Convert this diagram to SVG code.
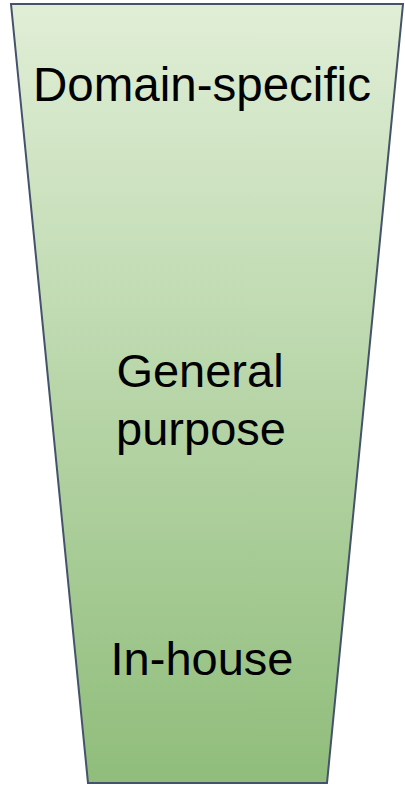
<svg xmlns="http://www.w3.org/2000/svg" width="405" height="785" viewBox="0 0 405 785">
<defs>
<linearGradient id="g" x1="0" y1="0" x2="0" y2="1">
<stop offset="0" stop-color="#e0eed6"/>
<stop offset="1" stop-color="#90bd7b"/>
</linearGradient>
<style>
.t{font-family:"Liberation Sans",Arial,sans-serif;font-size:47px;fill:#000;text-anchor:middle}
</style>
</defs>
<rect width="405" height="785" fill="#fff"/>
<g id="funnel">
<polygon points="11,4 403,4 327,783 88,783" fill="url(#g)" stroke="#45526b" stroke-width="2"/>
</g>
<g id="domain-specific"><text class="t" x="202" y="101" style="font-size:47.5px">Domain-specific</text></g>
<g id="general-purpose"><text class="t" x="200" y="387">General</text><text class="t" x="201" y="445">purpose</text></g>
<g id="in-house"><text class="t" x="202" y="675">In-house</text></g>
<g id="connectors"/>
</svg>
